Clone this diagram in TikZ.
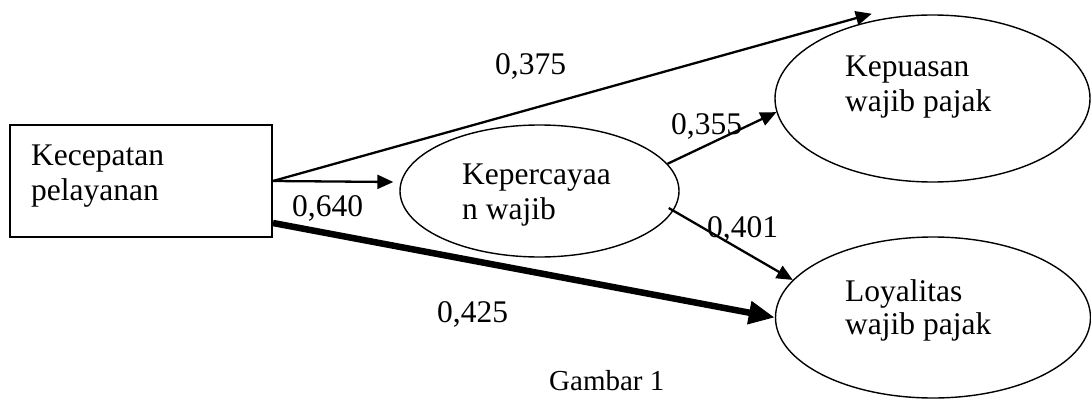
\documentclass[tikz,border=0pt]{standalone}
\usepackage{fontspec}
\setmainfont{Liberation Serif}
\usetikzlibrary{shapes.geometric,arrows.meta}
\begin{document}
\begin{tikzpicture}[x=1pt,y=-1pt,
  txt/.style={inner sep=0pt,anchor=base west,align=left,font=\fontsize{31.5}{35}\selectfont},
  lbl/.style={inner sep=0pt,anchor=base west,font=\fontsize{31.5}{35}\selectfont},
  oval/.style={draw,ellipse,line width=1.4pt,inner sep=0pt},
  arr/.style={line width=2.3pt,-{Triangle[length=16pt,width=14pt]}},
  thickarr/.style={line width=6.5pt,-{Triangle[length=26pt,width=22pt]}}]
\useasboundingbox (0,0) rectangle (1091,401);
\node[draw,line width=2pt,rectangle,minimum width=262pt,minimum height=112pt,inner sep=0pt] (box) at (141,181) {};
\node[oval,minimum width=279pt,minimum height=132pt] (kpc) at (539.5,191) {};
\node[oval,minimum width=315pt,minimum height=167pt] (kep) at (932.5,98.5) {};
\node[oval,minimum width=315pt,minimum height=161pt] (loy) at (933,317.5) {};
\node[txt] (t1) at (31,200) {Kecepatan\\pelayanan};
\node[txt] (t2) at (462,219) {Kepercayaa\\n wajib};
\node[txt] (t3) at (845,112) {Kepuasan\\wajib pajak};
\node[txt,font=\fontsize{31.5}{33}\selectfont] (t4) at (845,334) {Loyalitas\\wajib pajak};
\draw[arr] (box.east) -- ([xshift=-6pt,yshift=9pt]kpc.west);
\draw[arr] (box.east) -- ([yshift=7pt]kep.128);
\draw[arr] (kpc.12) -- (kep.185);
\draw[arr] ([shift={(-11pt,-17pt)}]kpc.east) -- (loy.165);
\draw[thickarr] ([yshift=-42pt]box.east) -- (loy.west);
\node[lbl] (l375) at (495,75) {0,375};
\node[lbl] (l355) at (671,135) {0,355};
\node[lbl] (l640) at (292,216) {0,640};
\node[lbl] (l401) at (707,237) {0,401};
\node[lbl] (l425) at (437,322) {0,425};
\node[lbl,font=\fontsize{29}{33}\selectfont] (cap) at (549,390) {Gambar 1};
\end{tikzpicture}
\end{document}
